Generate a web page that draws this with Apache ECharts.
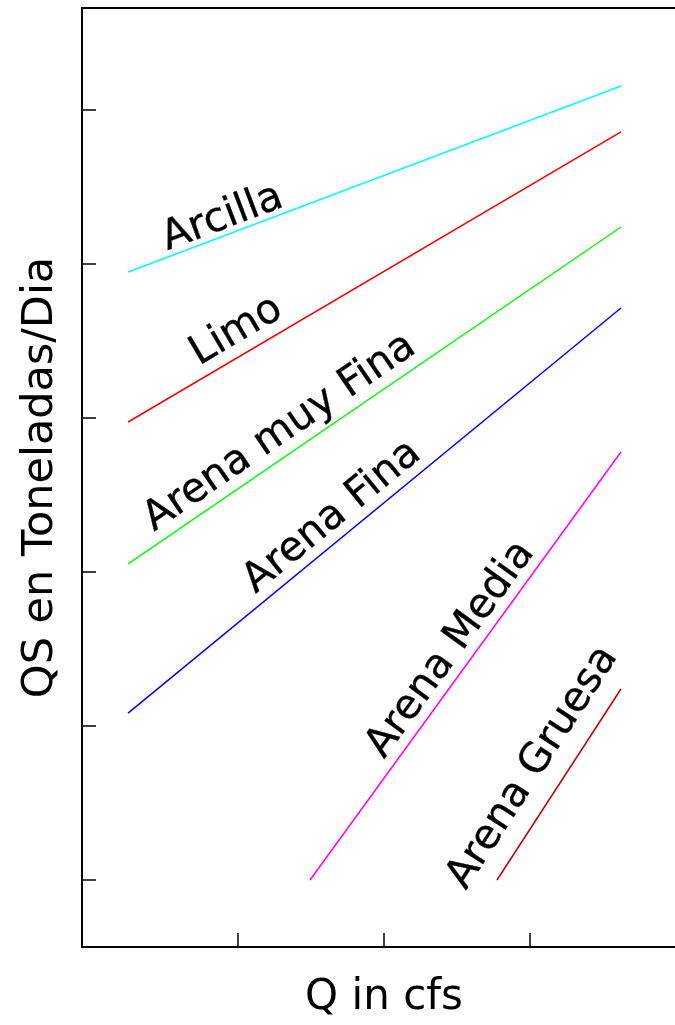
<!DOCTYPE html>
<html><head><meta charset="utf-8">
<script src="https://cdn.jsdelivr.net/npm/echarts@6/dist/echarts.min.js"></script>
<style>html,body{margin:0;padding:0;background:#fff;overflow:hidden}#c{width:690px;height:1025px}</style>
</head><body><div id="c"></div>
<script>
// ---- data ----
const seriesNames = ['Arcilla', 'Limo', 'Arena muy Fina', 'Arena Fina', 'Arena Media', 'Arena Gruesa'];
const xStart = [0.247, 0.247, 0.247, 0.247, 1.493, 2.774];
const xEnd   = [3.623, 3.623, 3.623, 3.623, 3.623, 3.623];
const yStart = [4.948, 3.974, 3.052, 2.084, 1.000, 1.000];
const yEnd   = [6.156, 5.857, 5.240, 4.714, 3.779, 2.240];
const labelX = [0.527, 0.747, 0.439, 1.136, 2.021, 2.582];
const labelY = [5.065, 4.318, 3.240, 2.838, 1.767, 0.916];
const xTicks = [1, 2, 3];
const yTicks = [1, 2, 3, 4, 5, 6];
const xTitle = 'Q in cfs';
const yTitle = 'QS en Toneladas/Dia';
// ---- style ----
const colors = ['#00ffff', '#ff0000', '#00ff00', '#0000ff', '#ff00ff', '#c00000'];
const FONT = 'DejaVu Sans';

const chart = echarts.init(document.getElementById('c'), null, {renderer: 'canvas'});

const lineSeries = seriesNames.map((n, i) => ({
  name: n, type: 'line', symbol: 'none', silent: true,
  data: [[xStart[i], yStart[i]], [xEnd[i], yEnd[i]]],
  lineStyle: {color: colors[i], width: 1.5},
  emphasis: {disabled: true}
}));

const axisCommon = {
  axisLine: {show: true, onZero: false, lineStyle: {color: '#000', width: 2}},
  axisLabel: {show: false},
  splitLine: {show: false},
  nameLocation: 'middle'
};

chart.setOption({
  animation: false,
  backgroundColor: '#fff',
  grid: {left: 82, top: 8, width: 604, height: 939, show: true, borderColor: '#000', borderWidth: 2,
         containLabel: false, outerBoundsMode: 'none'},
  xAxis: Object.assign({}, axisCommon, {
    type: 'value', min: -0.0685, max: 4.0685,
    name: xTitle, nameGap: 30,
    nameTextStyle: {fontFamily: FONT, fontSize: 42, color: '#000'},
    axisTick: {show: true, inside: true, length: 14, customValues: xTicks, lineStyle: {color: '#000', width: 1.5}}
  }),
  yAxis: Object.assign({}, axisCommon, {
    type: 'value', min: 0.565, max: 6.662,
    name: yTitle, nameGap: 20,
    nameTextStyle: {fontFamily: FONT, fontSize: 43, color: '#000'},
    axisTick: {show: true, inside: true, length: 14, customValues: yTicks, lineStyle: {color: '#000', width: 1.5}}
  }),
  series: lineSeries
});

// label series, rotated along each line
const labelSeries = seriesNames.map((n, i) => {
  const p1 = chart.convertToPixel({xAxisIndex: 0, yAxisIndex: 0}, [xStart[i], yStart[i]]);
  const p2 = chart.convertToPixel({xAxisIndex: 0, yAxisIndex: 0}, [xEnd[i], yEnd[i]]);
  const ang = Math.atan2(-(p2[1] - p1[1]), p2[0] - p1[0]) * 180 / Math.PI;
  return {
    type: 'scatter', silent: true, symbolSize: 0,
    itemStyle: {opacity: 1},
    data: [[labelX[i], labelY[i]]],
    label: {
      show: true, formatter: n, position: [0, 0], align: 'left', verticalAlign: 'bottom',
      rotate: ang, offset: [0, 6], opacity: 1,
      fontFamily: FONT, fontSize: 41, color: '#000',
      textBorderColor: '#000', textBorderWidth: 0.3
    },
    emphasis: {disabled: true}
  };
});

chart.setOption({series: lineSeries.concat(labelSeries)});
</script>
</body></html>
